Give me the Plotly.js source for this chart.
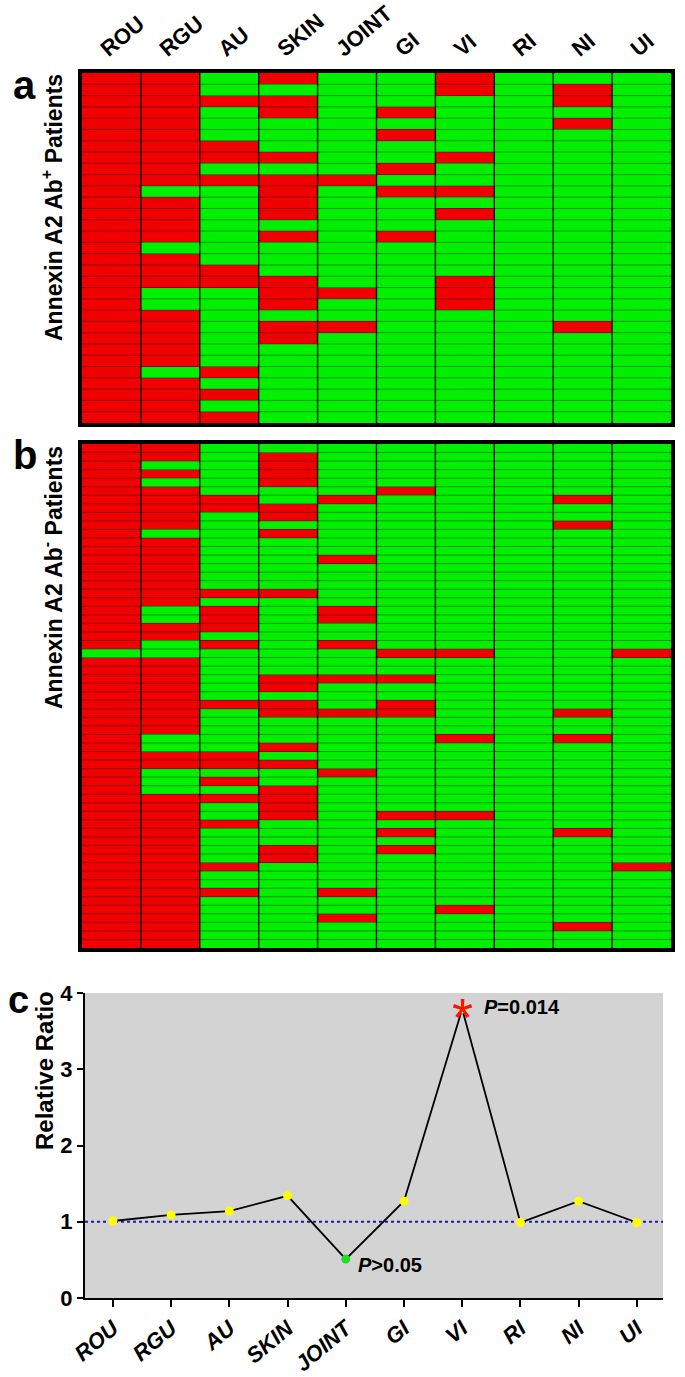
<!DOCTYPE html>
<html>
<head>
<meta charset="utf-8">
<script src="https://cdn.plot.ly/plotly-3.0.1.min.js"></script>
<style>html,body{margin:0;padding:0;background:#fff;}#chart{width:685px;height:1377px;}</style>
</head>
<body>
<div id="chart"></div>
<script>
// ---------- DATA ----------
const categories = ['ROU','RGU','AU','SKIN','JOINT','GI','VI','RI','NI','UI'];

// Panel a: Annexin A2 Ab+ patients, one string per patient, 1 = affected (red), 0 = not (green)
const rowsPositive = [
  '1101001000','1100001010','1111000010','1101010000','1100000010',
  '1100010000','1110000000','1111001000','1100010000','1111100000',
  '1001011000','1101000000','1101001000','1100000000','1101010000',
  '1000000000','1100000000','1110000000','1111001000','1001101000',
  '1001001000','1100000000','1101100010','1101000000','1100000000',
  '1100000000','1010000000','1100000000','1110000000','1100000000',
  '1110000000'
];

// Panel b: Annexin A2 Ab- patients
const rowsNegative = [
  '1100000000','1101000000','1001000000','1101000000','1001000000',
  '1100010000','1110100010','1111000000','1101000000','1100000010',
  '1001000000','1100000000','1100000000','1100100000','1100000000',
  '1100000000','1100000000','1111000000','1100000000','1010100000',
  '1010100000','1110000000','1100000000','1010100000','0000011001',
  '1100000000','1100000000','1101110000','1101000000','1100000000',
  '1111010000','1101110010','1100000000','1100000000','1000001010',
  '1001000000','1110000000','1111000000','1000100000','1010000000',
  '1001000000','1111000000','1101000000','1101011000','1110000000',
  '1100010010','1100000000','1101010000','1101000000','1110000001',
  '1100000000','1100000000','1110100000','1100000000','1100001000',
  '1100100000','1100000010','1100000000','1100000000'
];

// Panel c: relative ratio (Ab+ / Ab-)
const relativeRatio = [1.01, 1.09, 1.14, 1.34, 0.51, 1.27, 3.79, 0.99, 1.27, 0.99];
const baseline = 1;
const sigLabel = {category: 'VI', y: 3.87, text: '<i>P</i>=0.014'};
const nsLabel  = {category: 'JOINT', y: 0.43, text: '<i>P</i>&gt;0.05'};

// ---------- BUILD ----------
const W = 685, H = 1377;
const px = x => x / W;
const py = y => 1 - y / H;
const idx = categories.map((_, i) => i);
const FONT = 'Arial, "Liberation Sans", sans-serif';
const NARROW = '"Liberation Sans Narrow", "Arial Narrow", Arial, "Liberation Sans", sans-serif';
const RED = '#f00000', GREEN = '#00f000';

function toZ(rows) { return rows.map(r => r.split('').map(Number)); }

function heat(rows, xa, ya) {
  return {
    type: 'heatmap', z: toZ(rows), x: idx, y: rows.map((_, i) => i),
    xaxis: xa, yaxis: ya, zmin: 0, zmax: 1, showscale: false,
    colorscale: [[0, GREEN], [0.5, GREEN], [0.5, RED], [1, RED]],
    hoverinfo: 'skip'
  };
}

function separators(nRows, xa, ya) {
  const hx = [], hy = [], vx = [], vy = [];
  for (let r = 1; r < nRows; r++) { hx.push(-0.5, categories.length - 0.5, null); hy.push(r - 0.5, r - 0.5, null); }
  for (let c = 1; c < categories.length; c++) { vx.push(c - 0.5, c - 0.5, null); vy.push(-0.5, nRows - 0.5, null); }
  return [
    {type: 'scatter', mode: 'lines', x: hx, y: hy, xaxis: xa, yaxis: ya,
     line: {color: 'rgba(0,0,0,0.38)', width: 1}, hoverinfo: 'skip', showlegend: false},
    {type: 'scatter', mode: 'lines', x: vx, y: vy, xaxis: xa, yaxis: ya,
     line: {color: '#111', width: 1.4}, hoverinfo: 'skip', showlegend: false}
  ];
}

const traces = [
  heat(rowsPositive, 'x', 'y'),
  ...separators(rowsPositive.length, 'x', 'y'),
  heat(rowsNegative, 'x2', 'y2'),
  ...separators(rowsNegative.length, 'x2', 'y2'),
  {
    type: 'scatter', mode: 'lines+markers', x: idx, y: relativeRatio,
    xaxis: 'x3', yaxis: 'y3',
    line: {color: '#000', width: 1.8},
    marker: {size: 9, color: categories.map(c => c === 'JOINT' ? '#22dd22' : '#ffff00'), line: {width: 0}},
    hoverinfo: 'skip', showlegend: false
  }
];

const boxAxis = {
  showline: true, mirror: true, linewidth: 4, linecolor: '#000',
  showgrid: false, zeroline: false, ticks: '', fixedrange: true
};

const layout = {
  width: W, height: H,
  margin: {l: 0, r: 0, t: 0, b: 0},
  paper_bgcolor: '#fff', plot_bgcolor: '#d3d3d3',
  showlegend: false,
  font: {family: FONT, color: '#000'},
  xaxis: Object.assign({}, boxAxis, {
    domain: [px(82), px(671)], anchor: 'y', range: [-0.5, 9.5], side: 'top',
    tickvals: idx, ticktext: categories, tickangle: -40, ticklabelshift: -10, ticklabelstandoff: 0,
    tickfont: {family: FONT, size: 22, weight: 'bold', color: '#000'}
  }),
  yaxis: Object.assign({}, boxAxis, {
    domain: [py(423), py(73)], anchor: 'x', range: [rowsPositive.length - 0.5, -0.5], showticklabels: false
  }),
  xaxis2: Object.assign({}, boxAxis, {
    domain: [px(82), px(671)], anchor: 'y2', range: [-0.5, 9.5], showticklabels: false
  }),
  yaxis2: Object.assign({}, boxAxis, {
    domain: [py(948), py(444)], anchor: 'x2', range: [rowsNegative.length - 0.5, -0.5], showticklabels: false
  }),
  xaxis3: {
    domain: [px(85), px(663)], anchor: 'y3', range: [-0.48, 9.45],
    tickvals: idx, ticktext: categories, tickangle: -40,
    tickfont: {family: FONT, size: 22, weight: 'bold', style: 'italic', color: '#000'},
    showline: true, linewidth: 2, linecolor: '#000', ticks: 'outside', ticklen: 7, tickwidth: 2, tickcolor: '#000',
    showgrid: false, zeroline: false
  },
  yaxis3: {
    domain: [py(1298), py(993)], anchor: 'x3', range: [0, 4],
    tickvals: [0, 1, 2, 3, 4], ticks: 'outside', ticklen: 6, tickwidth: 2, tickcolor: '#000',
    tickfont: {family: NARROW, size: 22, weight: 'bold', color: '#000'},
    showline: true, linewidth: 2, linecolor: '#000', showgrid: false, zeroline: false
  },
  shapes: [
    {type: 'line', xref: 'x3 domain', yref: 'y3', x0: 0, x1: 1, y0: baseline, y1: baseline,
     line: {color: '#1c1ca8', width: 2, dash: 'dot'}, layer: 'below'}
  ],
  annotations: [
    {text: '<b>a</b>', xref: 'paper', yref: 'paper', x: px(25), y: py(85), showarrow: false,
     font: {size: 40, family: FONT}, xanchor: 'center', yanchor: 'middle'},
    {text: '<b>b</b>', xref: 'paper', yref: 'paper', x: px(25), y: py(455), showarrow: false,
     font: {size: 40, family: FONT}, xanchor: 'center', yanchor: 'middle'},
    {text: '<b>c</b>', xref: 'paper', yref: 'paper', x: px(18), y: py(1000), showarrow: false,
     font: {size: 38, family: FONT}, xanchor: 'center', yanchor: 'middle'},
    {text: '<b>Annexin A2 Ab<sup>+</sup> Patients</b>', xref: 'paper', yref: 'paper', x: px(52), y: py(208),
     showarrow: false, textangle: -90, font: {size: 23, family: FONT}, xanchor: 'center', yanchor: 'middle'},
    {text: '<b>Annexin A2 Ab<sup>-</sup> Patients</b>', xref: 'paper', yref: 'paper', x: px(52), y: py(578),
     showarrow: false, textangle: -90, font: {size: 23, family: FONT}, xanchor: 'center', yanchor: 'middle'},
    {text: '<b>Relative Ratio</b>', xref: 'paper', yref: 'paper', x: px(44), y: py(1071),
     showarrow: false, textangle: -90, font: {size: 24, family: FONT}, xanchor: 'center', yanchor: 'middle'},
    {text: '*', xref: 'x3', yref: 'y3', x: categories.indexOf(sigLabel.category), y: sigLabel.y,
     showarrow: false, font: {size: 54, color: '#ff1010', family: FONT}, xanchor: 'center', yanchor: 'middle', yshift: -14},
    {text: '<b>' + sigLabel.text + '</b>', xref: 'x3', yref: 'y3', x: categories.indexOf(sigLabel.category), y: sigLabel.y - 0.05,
     showarrow: false, font: {size: 20, family: NARROW}, xanchor: 'left', yanchor: 'middle', xshift: 20},
    {text: '<b>' + nsLabel.text + '</b>', xref: 'x3', yref: 'y3', x: categories.indexOf(nsLabel.category), y: nsLabel.y,
     showarrow: false, font: {size: 20, family: NARROW}, xanchor: 'left', yanchor: 'middle', xshift: 10}
  ]
};

Plotly.newPlot('chart', traces, layout, {staticPlot: true, displayModeBar: false});
</script>
</body>
</html>
